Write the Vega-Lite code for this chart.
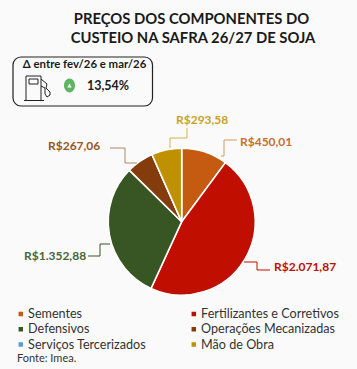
{
"$schema":"https://vega.github.io/schema/vega-lite/v6.json",
"width":357,"height":369,"padding":0,
"autosize":{"type":"fit","contains":"padding"},
"background":"#fafafa",
"config":{"view":{"stroke":null},"font":"Lato"},
"encoding":{
 "x":{"type":"quantitative","scale":{"domain":[0,357],"nice":false,"zero":false},"axis":null},
 "y":{"type":"quantitative","scale":{"domain":[369,0],"nice":false,"zero":false},"axis":null}
},
"layer":[
 {"data":{"values":[{"a":13,"a2":152.5,"b":57,"b2":106}]},
  "mark":{"type":"rect","fill":null,"stroke":"#222222","strokeWidth":1.2,"cornerRadius":8},
  "encoding":{"x":{"field":"a"},"x2":{"field":"a2"},"y":{"field":"b"},"y2":{"field":"b2"}}},
 {"data":{"values":[
   {"s":1,"i":1,"px":26,"py":100},{"s":1,"i":2,"px":26,"py":76},{"s":1,"i":3,"px":41,"py":76},{"s":1,"i":4,"px":41,"py":100},
   {"s":2,"i":1,"px":24,"py":100.5},{"s":2,"i":2,"px":44,"py":100.5},
   {"s":3,"i":1,"px":29,"py":79},{"s":3,"i":2,"px":38,"py":79},{"s":3,"i":3,"px":38,"py":84},{"s":3,"i":4,"px":29,"py":84},{"s":3,"i":5,"px":29,"py":79},
   {"s":4,"i":1,"px":41,"py":79},{"s":4,"i":2,"px":47,"py":84},{"s":4,"i":3,"px":46,"py":88},{"s":4,"i":4,"px":50,"py":92},{"s":4,"i":5,"px":50,"py":95},{"s":4,"i":6,"px":47,"py":97},{"s":4,"i":7,"px":45,"py":94},{"s":4,"i":8,"px":45,"py":88},{"s":4,"i":9,"px":41,"py":86}
  ]},
  "mark":{"type":"line","color":"#222222","strokeWidth":1},
  "encoding":{"x":{"field":"px"},"y":{"field":"py"},"detail":{"field":"s"},"order":{"field":"i"}}},
 {"data":{"values":[{"px":69.5,"py":85.5}]},
  "mark":{"type":"point","shape":"M -0.8 0 A 0.8 1 0 1 1 0.8 0 A 0.8 1 0 1 1 -0.8 0 Z","filled":true,"color":"#5cb660","opacity":1,"size":190},
  "encoding":{"x":{"field":"px"},"y":{"field":"py"}}},
 {"data":{"values":[{"px":69.5,"py":85.5}]},
  "mark":{"type":"point","shape":"triangle-up","filled":true,"color":"#ffffff","opacity":1,"size":20},
  "encoding":{"x":{"field":"px"},"y":{"field":"py"}}},
 {"data":{"values":[
   {"name":"Sementes","value":450.01,"idx":1,"cx":181.7,"cy":221.7},
   {"name":"Fertilizantes e Corretivos","value":2071.87,"idx":2,"cx":181.7,"cy":221.7},
   {"name":"Defensivos","value":1352.88,"idx":3,"cx":181.7,"cy":221.7},
   {"name":"Operações Mecanizadas","value":267.06,"idx":4,"cx":181.7,"cy":221.7},
   {"name":"Serviços Tercerizados","value":0,"idx":5,"cx":181.7,"cy":221.7},
   {"name":"Mão de Obra","value":293.58,"idx":6,"cx":181.7,"cy":221.7}
  ]},
  "mark":{"type":"arc","outerRadius":73.5,"stroke":"#ffffff","strokeWidth":1.6},
  "encoding":{
   "x":{"field":"cx"},"y":{"field":"cy"},
   "theta":{"field":"value","type":"quantitative","stack":true},
   "order":{"field":"idx"},
   "color":{"field":"name","type":"nominal","sort":null,
    "scale":{"domain":["Sementes","Defensivos","Serviços Tercerizados","Fertilizantes e Corretivos","Operações Mecanizadas","Mão de Obra"],
             "range":["#c55a11","#375623","#5b9bd5","#c00f00","#843c0c","#bf9000"]},
    "legend":{"title":null,"orient":"none","legendX":14.5,"legendY":307,"columns":2,"symbolType":"square","symbolSize":20,"symbolStrokeWidth":0,"labelFontSize":12.6,"labelColor":"#333333","labelFont":"Lato","rowPadding":1.3,"columnPadding":41,"labelOffset":1,"padding":0,"labelLimit":200,"clipHeight":14}}
  }},
 {"data":{"values":[
   {"s":1,"i":1,"px":221,"py":156,"c":"#d9975f"},{"s":1,"i":2,"px":224,"py":156,"c":"#d9975f"},{"s":1,"i":3,"px":224,"py":140,"c":"#d9975f"},{"s":1,"i":4,"px":237,"py":140,"c":"#d9975f"},
   {"s":2,"i":1,"px":244,"py":262,"c":"#c00f00"},{"s":2,"i":2,"px":257,"py":262,"c":"#c00f00"},{"s":2,"i":3,"px":257,"py":270,"c":"#c00f00"},{"s":2,"i":4,"px":270,"py":270,"c":"#c00f00"},
   {"s":3,"i":1,"px":110,"py":244,"c":"#375623"},{"s":3,"i":2,"px":100,"py":244,"c":"#375623"},{"s":3,"i":3,"px":100,"py":256,"c":"#375623"},{"s":3,"i":4,"px":88,"py":256,"c":"#375623"},
   {"s":4,"i":1,"px":137,"py":163,"c":"#b0886a"},{"s":4,"i":2,"px":125,"py":163,"c":"#b0886a"},{"s":4,"i":3,"px":125,"py":148,"c":"#b0886a"},{"s":4,"i":4,"px":110,"py":148,"c":"#b0886a"},
   {"s":5,"i":1,"px":170,"py":148,"c":"#d4b44a"},{"s":5,"i":2,"px":170,"py":138,"c":"#d4b44a"},{"s":5,"i":3,"px":187,"py":138,"c":"#d4b44a"},{"s":5,"i":4,"px":187,"py":128,"c":"#d4b44a"}
  ]},
  "mark":{"type":"line","strokeWidth":1},
  "encoding":{"x":{"field":"px"},"y":{"field":"py"},"detail":{"field":"s"},"order":{"field":"i"},"color":{"field":"c","type":"nominal","scale":null}}},
 {"data":{"values":[
   {"t":"PREÇOS DOS COMPONENTES DO","px":191.5,"py":20},
   {"t":"CUSTEIO NA SAFRA 26/27 DE SOJA","px":193,"py":38.5}
  ]},
  "mark":{"type":"text","baseline":"middle","align":"center","fontSize":14.8,"fontWeight":"bold","color":"#1a1a1a"},
  "encoding":{"x":{"field":"px"},"y":{"field":"py"},"text":{"field":"t"}}},
 {"data":{"values":[{"t":"Δ entre fev/26 e mar/26","px":84.5,"py":65}]},
  "mark":{"type":"text","baseline":"middle","align":"center","fontSize":11.4,"fontWeight":"bold","color":"#1a1a1a"},
  "encoding":{"x":{"field":"px"},"y":{"field":"py"},"text":{"field":"t"}}},
 {"data":{"values":[{"t":"13,54%","px":108,"py":86}]},
  "mark":{"type":"text","baseline":"middle","align":"center","fontSize":12.5,"fontWeight":"bold","color":"#1a1a1a"},
  "encoding":{"x":{"field":"px"},"y":{"field":"py"},"text":{"field":"t"}}},
 {"data":{"values":[
   {"t":"R$450,01","px":240,"py":142,"c":"#c8702a"},
   {"t":"R$2.071,87","px":274,"py":267,"c":"#c00f00"},
   {"t":"R$1.352,88","px":24,"py":256,"c":"#4a6638"},
   {"t":"R$267,06","px":48,"py":146,"c":"#96561f"},
   {"t":"R$293,58","px":176,"py":120,"c":"#c9a227"}
  ]},
  "mark":{"type":"text","baseline":"middle","align":"left","fontSize":12,"fontWeight":"bold"},
  "encoding":{"x":{"field":"px"},"y":{"field":"py"},"text":{"field":"t"},"color":{"field":"c","type":"nominal","scale":null}}},
 {"data":{"values":[{"t":"Fonte: Imea.","px":17,"py":359}]},
  "mark":{"type":"text","baseline":"middle","align":"left","fontSize":11,"color":"#333333"},
  "encoding":{"x":{"field":"px"},"y":{"field":"py"},"text":{"field":"t"}}}
]
}
